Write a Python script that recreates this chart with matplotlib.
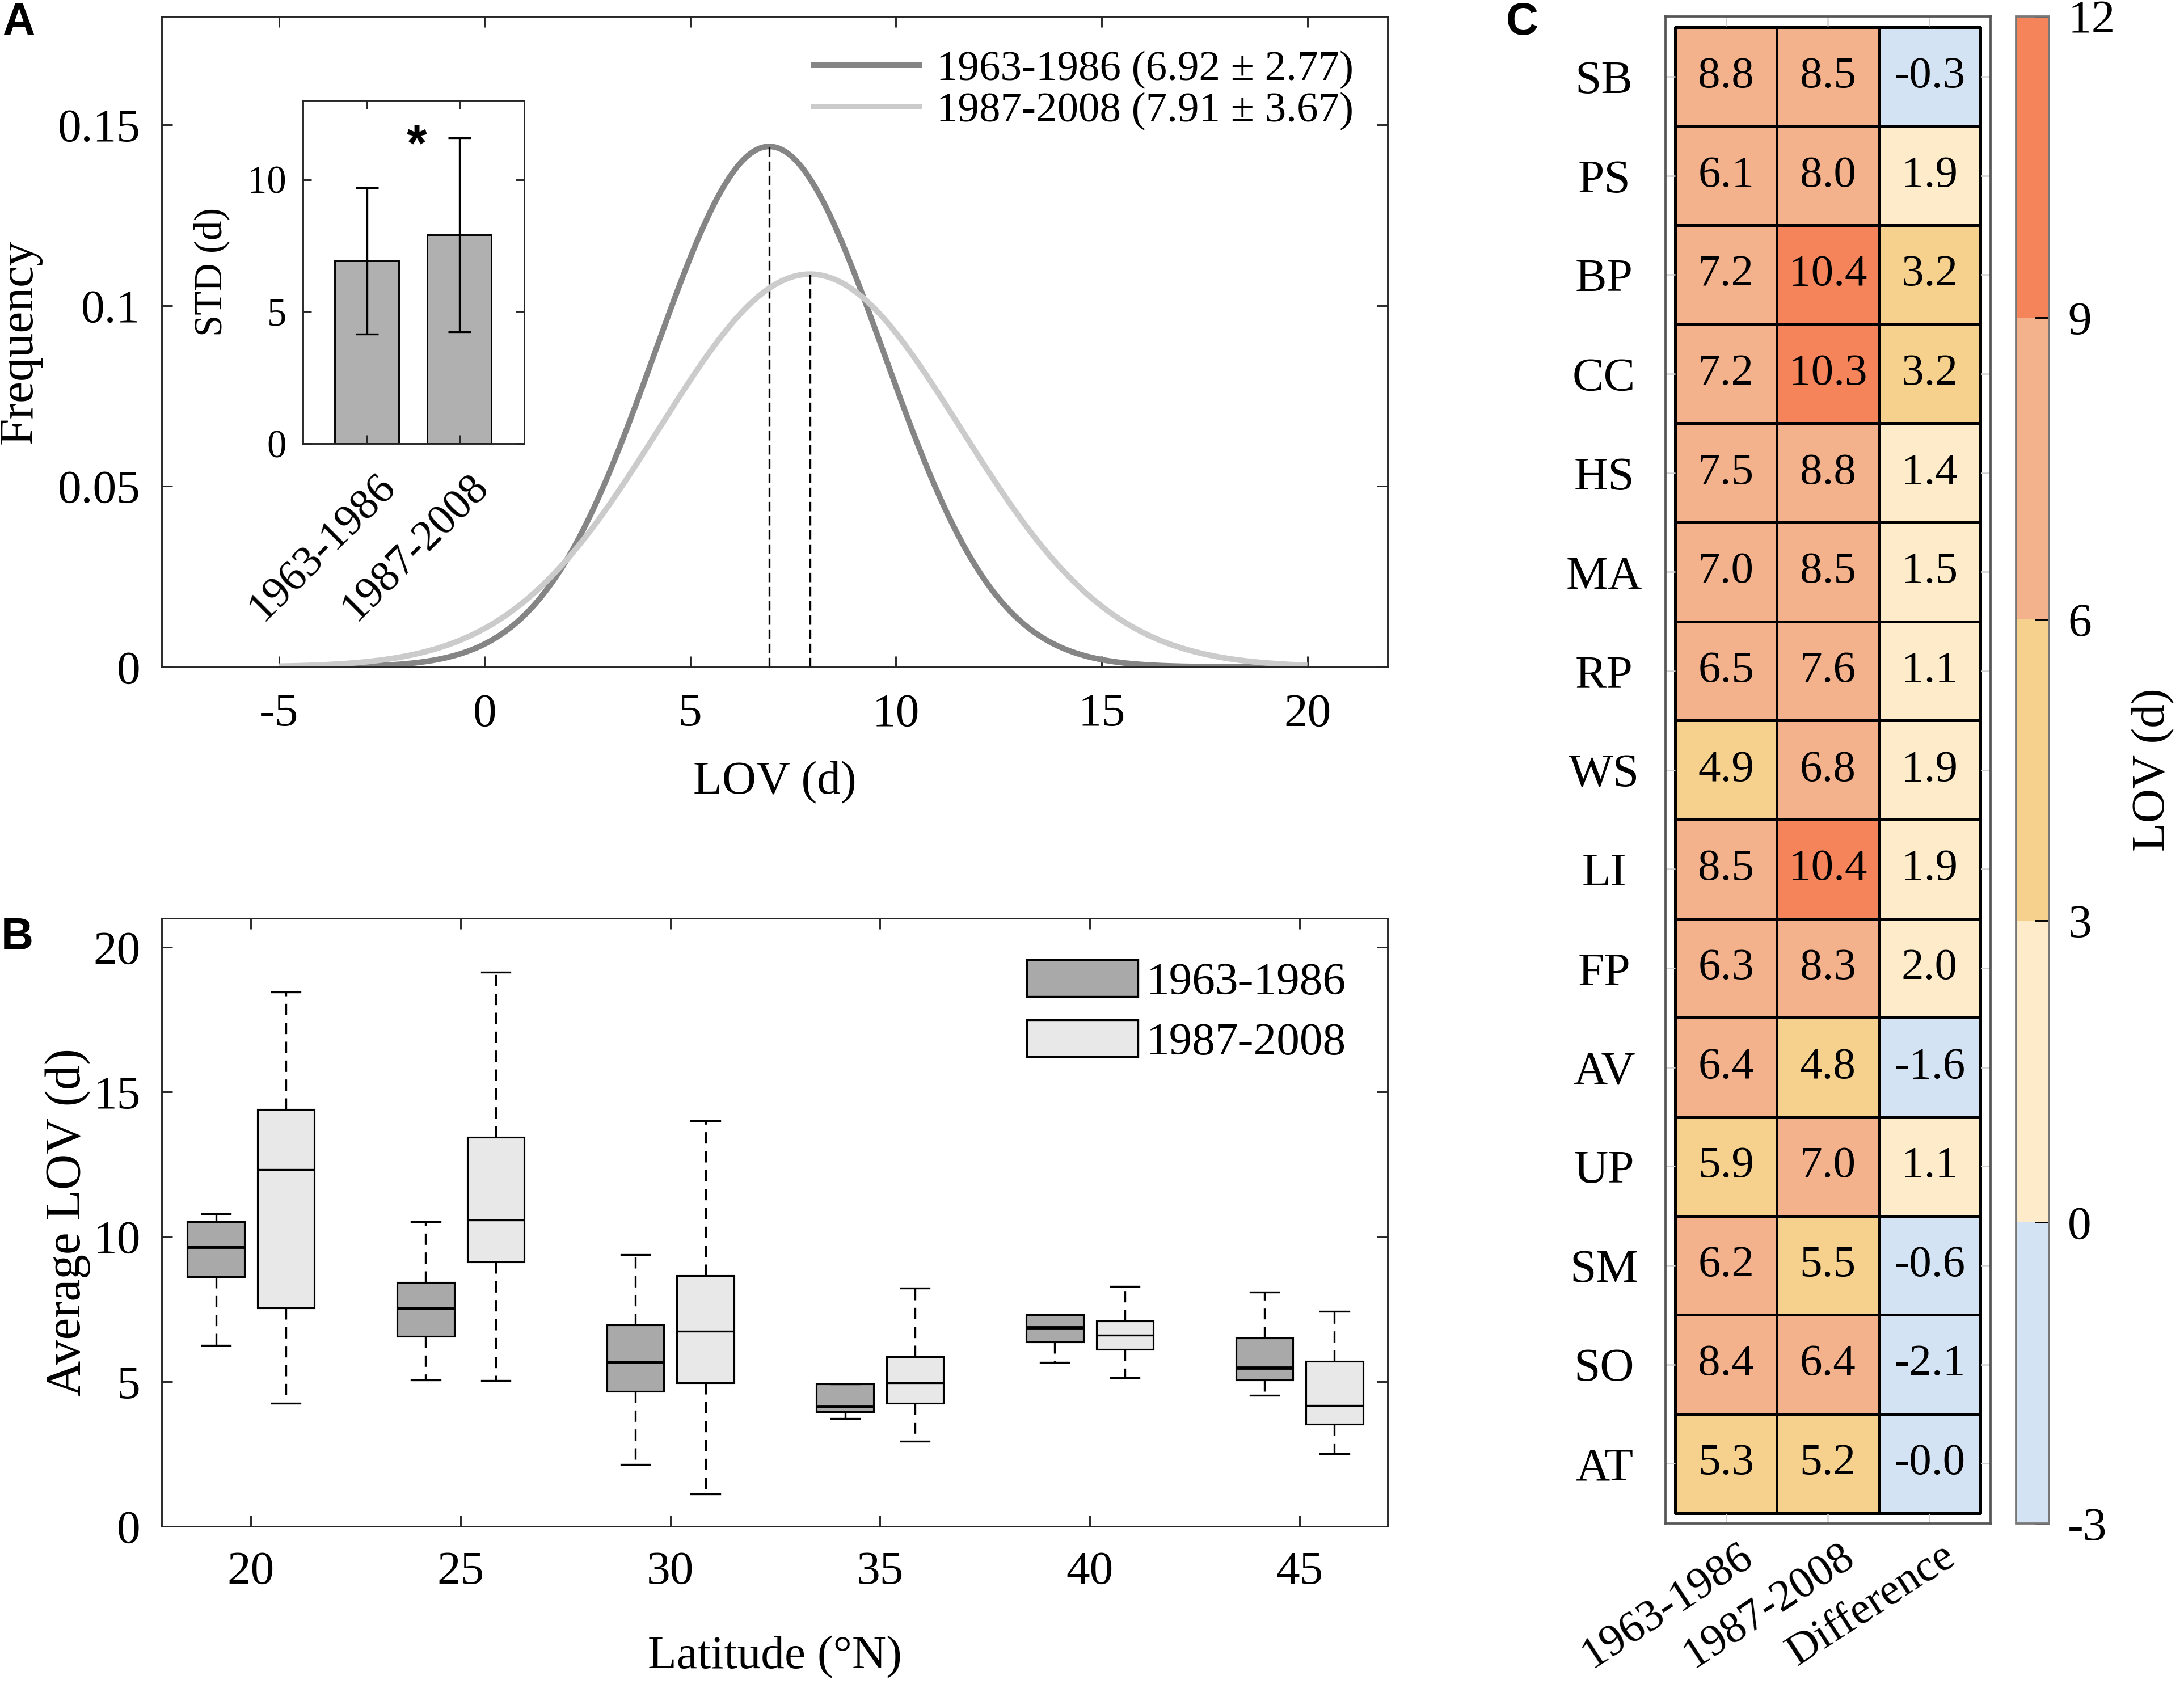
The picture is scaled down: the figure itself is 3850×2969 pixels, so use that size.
import numpy as np
import matplotlib
matplotlib.use('Agg')
import matplotlib.pyplot as plt
from matplotlib.colors import ListedColormap, BoundaryNorm
from matplotlib.patches import Patch
from matplotlib.cm import ScalarMappable
from matplotlib.transforms import ScaledTranslation

plt.rcParams['font.family'] = ['Liberation Serif', 'DejaVu Serif']
plt.rcParams['axes.unicode_minus'] = False
plt.rcParams['axes.linewidth'] = 0.7
plt.rcParams['axes.edgecolor'] = '#262626'
plt.rcParams['xtick.color'] = '#262626'
plt.rcParams['ytick.color'] = '#262626'
plt.rcParams['xtick.labelcolor'] = 'black'
plt.rcParams['ytick.labelcolor'] = 'black'

# ---- panel A: fitted LOV distributions ----
periods = ['1963-1986', '1987-2008']
lov_mean = [6.92, 7.91]
lov_std = [2.77, 3.67]
line_colors = ['#858585', '#cbcbcb']
x_from, x_to = -5, 20

# ---- panel B: average LOV by latitude (box stats) ----
lat = [20, 25, 30, 35, 40, 45]
early_whislo = [6.24, 5.06, 2.14, 3.73, 5.66, 4.52]
early_q1 = [8.61, 6.57, 4.67, 3.95, 6.36, 5.05]
early_med = [9.64, 7.53, 5.67, 4.13, 6.86, 5.46]
early_q3 = [10.51, 8.42, 6.95, 4.91, 7.30, 6.50]
early_whishi = [10.80, 10.51, 9.39, 4.91, 7.30, 8.09]
late_whislo = [4.26, 5.04, 1.11, 2.93, 5.13, 2.50]
late_q1 = [7.54, 9.13, 4.95, 4.25, 6.11, 3.52]
late_med = [12.32, 10.58, 6.73, 4.96, 6.61, 4.18]
late_q3 = [14.40, 13.44, 8.65, 5.86, 7.09, 5.71]
late_whishi = [18.46, 19.13, 14.00, 8.23, 8.29, 7.43]

# ---- panel C: LOV per site ----
sites = ['SB', 'PS', 'BP', 'CC', 'HS', 'MA', 'RP', 'WS', 'LI', 'FP', 'AV', 'UP', 'SM', 'SO', 'AT']
heat_cols = ['1963-1986', '1987-2008', 'Difference']
lov_early = [8.8, 6.1, 7.2, 7.2, 7.5, 7.0, 6.5, 4.9, 8.5, 6.3, 6.4, 5.9, 6.2, 8.4, 5.3]
lov_late = [8.5, 8.0, 10.4, 10.3, 8.8, 8.5, 7.6, 6.8, 10.4, 8.3, 4.8, 7.0, 5.5, 6.4, 5.2]
lov_diff = [-0.3, 1.9, 3.2, 3.2, 1.4, 1.5, 1.1, 1.9, 1.9, 2.0, -1.6, 1.1, -0.6, -2.1, -0.04]
cbar_bounds = [-3, 0, 3, 6, 9, 12]
cbar_colors = ['#d3e3f3', '#fdebc9', '#f5d18d', '#f4b28c', '#f5845a']

W, H = 3850, 2969
fig = plt.figure(figsize=(W / 300, H / 300), dpi=300)

def px_axes(x0, y0, x1, y1):
    return fig.add_axes([x0 / W, 1 - y1 / H, (x1 - x0) / W, (y1 - y0) / H])

def px_shift(dx, dy):
    # offset in output pixels (dy positive = up)
    return ScaledTranslation(dx / 300, dy / 300, fig.dpi_scale_trans)

# ================= A =================
axA = px_axes(285, 29, 2446, 1176)
xs = np.linspace(x_from, x_to, 600)
for m, s, c, p in zip(lov_mean, lov_std, line_colors, periods):
    pdf = np.exp(-0.5 * ((xs - m) / s) ** 2) / (s * np.sqrt(2 * np.pi))
    axA.plot(xs, pdf, color=c, lw=2.4, label=f'{p} ({m:.2f} ± {s:.2f})', solid_capstyle='butt')
    peak = 1 / (s * np.sqrt(2 * np.pi))
    axA.plot([m, m], [0, peak], color='black', lw=0.8, ls=(0, (5, 2.5)))
axA.set_xlim(-7.85, 21.95)
axA.set_ylim(0, 0.18)
axA.set_xticks([-5, 0, 5, 10, 15, 20])
axA.set_yticks([0, 0.05, 0.1, 0.15])
axA.set_yticklabels(['0', '0.05', '0.1', '0.15'])
axA.tick_params(direction='in', top=True, right=True, length=4.5, width=0.7, labelsize=20)
axA.tick_params(axis='x', pad=11)
axA.tick_params(axis='y', pad=9)
axA.set_xlabel('LOV (d)', fontsize=20)
axA.xaxis.set_label_coords(0.5, -0.145)
axA.xaxis.label.set_va('top')
axA.set_ylabel('Frequency', fontsize=20.5)
axA.yaxis.set_label_coords(-0.098, 0.5)
axA.legend(loc='upper right', frameon=False, fontsize=18, handlelength=2.6,
           handletextpad=0.35, labelspacing=0.05, borderaxespad=0.4)

# inset
ins = px_axes(534, 177, 924, 782)
ins.bar([1, 2], lov_mean, width=0.69, color='#b0b0b0', edgecolor='black', lw=0.7,
        yerr=lov_std, capsize=4.7, error_kw=dict(lw=0.8, capthick=0.8, ecolor='black'))
ins.set_xlim(0.31, 2.7)
ins.set_ylim(0, 13)
ins.set_yticks([0, 5, 10])
ins.set_xticks([1, 2])
ins.set_xticklabels([])
ins.tick_params(direction='in', top=True, right=True, length=3.5, width=0.7, labelsize=16.5)
ins.tick_params(axis='y', pad=7)
for pos, p in zip([1, 2], periods):
    ins.text(pos, 0, p, transform=ins.get_xaxis_transform() + px_shift(15, -41),
             rotation=45, ha='right', va='top', rotation_mode='anchor', fontsize=18.5)
ins.set_ylabel('STD (d)', fontsize=16.5)
ins.yaxis.set_label_coords(-0.33, 0.5)
ins.text(1.54, 11.23, '*', fontsize=22, fontweight='bold', ha='center', va='center',
         family='Liberation Sans')

# ================= B =================
axB = px_axes(285, 1619, 2446, 2691)
box_w = 1.36
off = 0.835
groups = [
    (early_whislo, early_q1, early_med, early_q3, early_whishi, -off, '#a9a9a9', 1.4),
    (late_whislo, late_q1, late_med, late_q3, late_whishi, off, '#e8e8e8', 0.8),
]
for lo, q1, med, q3, hi, dx, fc, mlw in groups:
    stats = [dict(whislo=a, q1=b, med=c, q3=d, whishi=e, fliers=[])
             for a, b, c, d, e in zip(lo, q1, med, q3, hi)]
    axB.bxp(stats, positions=[l + dx for l in lat], widths=box_w, capwidths=box_w / 2,
            patch_artist=True, showfliers=False, manage_ticks=False,
            boxprops=dict(facecolor=fc, edgecolor='black', lw=0.75),
            medianprops=dict(color='black', lw=mlw),
            whiskerprops=dict(color='black', lw=0.8, ls=(0, (6, 4))),
            capprops=dict(color='black', lw=0.8))
axB.set_xlim(17.87, 47.1)
axB.set_ylim(0, 21)
axB.set_xticks(lat)
axB.set_yticks([0, 5, 10, 15, 20])
axB.tick_params(direction='in', top=True, right=True, length=4.5, width=0.7, labelsize=20)
axB.tick_params(axis='x', pad=10.5)
axB.tick_params(axis='y', pad=9)
axB.set_xlabel('Latitude (°N)', fontsize=20)
axB.xaxis.set_label_coords(0.5, -0.18)
axB.xaxis.label.set_va('top')
axB.set_ylabel('Average LOV (d)', fontsize=21)
axB.yaxis.set_label_coords(-0.058, 0.5)
handles = [Patch(facecolor='#a9a9a9', edgecolor='black', lw=0.8, label=periods[0]),
           Patch(facecolor='#e8e8e8', edgecolor='black', lw=0.8, label=periods[1])]
axB.legend(handles=handles, loc='upper right', frameon=False, fontsize=19.5, handlelength=2.42,
           handleheight=0.85, handletextpad=0.18, labelspacing=0.35, borderaxespad=0.5)

# ================= C =================
axC = px_axes(2936, 29, 3509, 2686)
cmap = ListedColormap(cbar_colors)
norm = BoundaryNorm(cbar_bounds, cmap.N)
grid = np.column_stack([lov_early, lov_late, lov_diff])
axC.pcolormesh(np.arange(4), np.arange(16), grid, cmap=cmap, norm=norm,
               edgecolors='black', linewidth=0.8)
for i in range(len(sites)):
    for j in range(len(heat_cols)):
        axC.text(j + 0.5, i + 0.5, f'{grid[i, j]:.1f}', ha='center', va='center', fontsize=19)
axC.set_xlim(-0.095, 3.1)
axC.set_ylim(15.105, -0.108)
axC.set_xticks(np.arange(3) + 0.5)
axC.set_xticklabels([])
for j, name in enumerate(heat_cols):
    axC.text(j + 0.5, 0, name, transform=axC.get_xaxis_transform() + px_shift(20, -22),
             rotation=33, ha='right', va='top', rotation_mode='anchor', fontsize=19)
axC.set_yticks(np.arange(15) + 0.5)
axC.set_yticklabels(sites, ha='center')
axC.tick_params(direction='in', top=True, right=True, length=4, width=0.6, color='#d0d0d0',
                labelsize=20)
axC.tick_params(axis='y', pad=26)
for sp in axC.spines.values():
    sp.set_color('#555555')
    sp.set_linewidth(0.9)

cax = px_axes(3554, 29, 3612, 2686)
cb = fig.colorbar(ScalarMappable(norm=norm, cmap=cmap), cax=cax, ticks=cbar_bounds)
cb.outline.set_edgecolor('#777777')
cb.outline.set_linewidth(0.9)
cax.tick_params(direction='in', length=6, width=0.7, color='black', labelsize=20, pad=8)
cb.set_label('LOV (d)', fontsize=20, labelpad=7)

# panel letters
for lab, x, y in [('A', 4, 3), ('B', 2, 1616), ('C', 2655, 3)]:
    fig.text(x / W, 1 - y / H, lab, ha='left', va='top', fontsize=19, fontweight='bold',
             family='Liberation Sans')

fig.savefig('out.png', dpi=300)
